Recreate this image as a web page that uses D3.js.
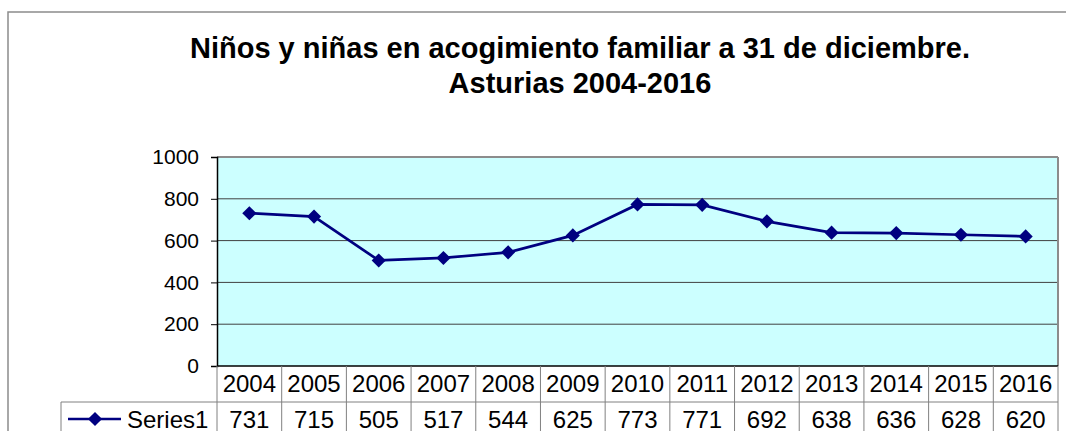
<!DOCTYPE html>
<html>
<head>
<meta charset="utf-8">
<script src="https://cdn.jsdelivr.net/npm/d3@7"></script>
<style>
  body { margin: 0; background: #fff; }
  svg { display: block; font-family: Arial, "Liberation Sans", sans-serif; }
</style>
</head>
<body>
<div id="chart"></div>
<script>
// datos
const years = ["2004","2005","2006","2007","2008","2009","2010","2011","2012","2013","2014","2015","2016"];
const values = [731, 715, 505, 517, 544, 625, 773, 771, 692, 638, 636, 628, 620];
const yTicks = [0, 200, 400, 600, 800, 1000];
const seriesName = "Series1";
const titleLines = ["Niños y niñas en acogimiento familiar a 31 de diciembre.", "Asturias 2004-2016"];

var W = 1066, H = 431;
var plot = {left: 217, right: 1058, top: 157, bottom: 366};
var rowH = 36;

var svg = d3.select("#chart")
    .append("svg")
    .attr("width", W)
    .attr("height", H);

// marco exterior
svg.append("rect")
    .attr("x", 8).attr("y", 12)
    .attr("width", 1200).attr("height", 600)
    .attr("fill", "#fff")
    .attr("stroke", "#8c8c8c")
    .attr("stroke-width", 1.5);

// titulo
svg.append("text")
    .attr("text-anchor", "middle")
    .style("font-weight", "bold")
    .style("font-size", "29px")
    .selectAll("tspan")
    .data(titleLines)
    .enter()
    .append("tspan")
    .attr("x", 580)
    .attr("y", (d, i) => 58 + i * 34.5)
    .text(d => d);

var x = d3.scaleBand()
    .domain(years)
    .range([plot.left, plot.right])
    .padding(0);

var y = d3.scaleLinear()
    .domain([0, 1000])
    .range([plot.bottom, plot.top]);

// fondo del area
svg.append("rect")
    .attr("x", plot.left).attr("y", plot.top)
    .attr("width", plot.right - plot.left)
    .attr("height", plot.bottom - plot.top)
    .attr("fill", "#ccffff");

// rejilla
svg.append("g")
    .selectAll("line")
    .data(yTicks.filter(d => d > 0 && d < 1000))
    .enter()
    .append("line")
    .attr("x1", plot.left).attr("x2", plot.right)
    .attr("y1", d => y(d)).attr("y2", d => y(d))
    .attr("stroke", "#404040")
    .attr("stroke-width", 1);

// bordes del area (arriba/derecha gris, izquierda/abajo negro)
svg.append("line")
    .attr("x1", plot.left).attr("x2", plot.right)
    .attr("y1", plot.top).attr("y2", plot.top)
    .attr("stroke", "#8c8c8c").attr("stroke-width", 2);
svg.append("line")
    .attr("x1", plot.right).attr("x2", plot.right)
    .attr("y1", plot.top).attr("y2", plot.bottom)
    .attr("stroke", "#8c8c8c").attr("stroke-width", 2);

// eje Y
var yAxis = svg.append("g")
    .attr("transform", "translate(" + plot.left + ",0)")
    .call(d3.axisLeft(y).tickValues(yTicks).tickSize(6).tickPadding(12).tickFormat(d3.format("d")));
yAxis.select(".domain").attr("stroke", "#000").attr("stroke-width", 1.5);
yAxis.selectAll(".tick line").attr("stroke", "#000");
yAxis.selectAll("text")
    .attr("fill", "#000")
    .style("font-size", "21px")
    .style("font-family", "Arial, 'Liberation Sans', sans-serif");

// linea de abajo
svg.append("line")
    .attr("x1", plot.left).attr("x2", plot.right)
    .attr("y1", plot.bottom).attr("y2", plot.bottom)
    .attr("stroke", "#000").attr("stroke-width", 1.5);

// tabla de datos
var table = svg.append("g");
var rowTop = plot.bottom + rowH;
var legendLeft = 61;

table.selectAll(".vline")
    .data(years.concat(["end"]))
    .enter()
    .append("line")
    .attr("class", "vline")
    .attr("x1", d => d === "end" ? plot.right : x(d))
    .attr("x2", d => d === "end" ? plot.right : x(d))
    .attr("y1", plot.bottom)
    .attr("y2", H + 5)
    .attr("stroke", "#808080");

table.append("line")
    .attr("x1", legendLeft).attr("x2", plot.right)
    .attr("y1", rowTop).attr("y2", rowTop)
    .attr("stroke", "#808080");
table.append("line")
    .attr("x1", legendLeft).attr("x2", legendLeft)
    .attr("y1", rowTop).attr("y2", H + 5)
    .attr("stroke", "#808080");

table.selectAll(".year")
    .data(years)
    .enter()
    .append("text")
    .attr("class", "year")
    .attr("x", d => x(d) + x.bandwidth() / 2)
    .attr("y", 391.5)
    .attr("text-anchor", "middle")
    .style("font-size", "24px")
    .text(d => d);

table.selectAll(".val")
    .data(values)
    .enter()
    .append("text")
    .attr("class", "val")
    .attr("x", (d, i) => x(years[i]) + x.bandwidth() / 2)
    .attr("y", 427.5)
    .attr("text-anchor", "middle")
    .style("font-size", "24px")
    .text(d => d);

// leyenda dentro de la tabla
var legY = 419;
table.append("line")
    .attr("x1", 68).attr("x2", 121)
    .attr("y1", legY).attr("y2", legY)
    .attr("stroke", "#000080").attr("stroke-width", 2.5);
table.append("path")
    .attr("d", d3.symbol().type(d3.symbolSquare).size(100))
    .attr("transform", "translate(95," + legY + ") rotate(45)")
    .attr("fill", "#000080");
table.append("text")
    .attr("x", 127)
    .attr("y", 427.5)
    .style("font-size", "24px")
    .text(seriesName);

// serie
var line = d3.line()
    .x((d, i) => x(years[i]) + x.bandwidth() / 2)
    .y(d => y(d));

svg.append("path")
    .datum(values)
    .attr("d", line)
    .attr("fill", "none")
    .attr("stroke", "#000080")
    .attr("stroke-width", 2.7);

svg.selectAll(".marker")
    .data(values)
    .enter()
    .append("path")
    .attr("class", "marker")
    .attr("d", d3.symbol().type(d3.symbolSquare).size(100))
    .attr("transform", (d, i) => "translate(" + (x(years[i]) + x.bandwidth() / 2) + "," + y(d) + ") rotate(45)")
    .attr("fill", "#000080");
</script>
</body>
</html>
